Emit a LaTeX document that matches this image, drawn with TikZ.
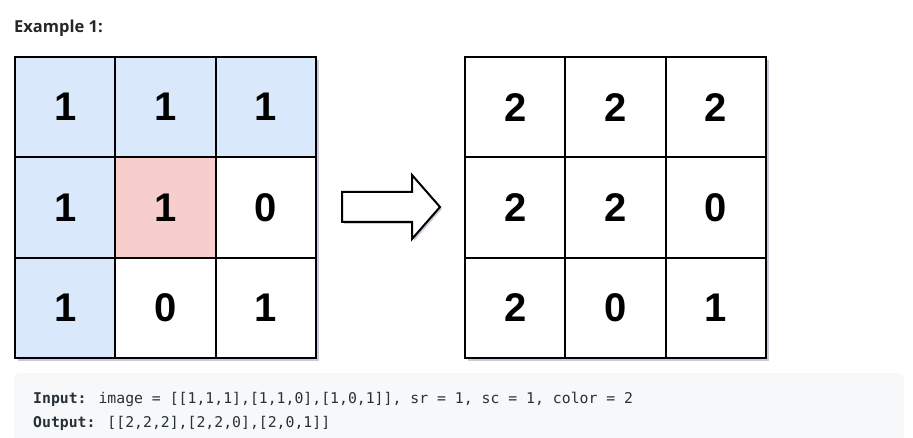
\documentclass[tikz,border=0pt]{standalone}
\usepackage{fontspec}
\setmainfont{Liberation Sans}
\newfontfamily\titrefont{Open Sans}
\newfontfamily\codefont{DejaVu Sans Mono}
\usetikzlibrary{positioning}
\definecolor{bleu}{HTML}{DAE8FC}
\definecolor{rosee}{HTML}{F8CECC}
\definecolor{fondcode}{HTML}{F7F8FA}
\definecolor{textecode}{HTML}{263238}
\definecolor{titre}{HTML}{262626}
\definecolor{ombre}{HTML}{CACAD8}

\begin{document}
\begin{tikzpicture}[
    x=1pt, y=-1pt,
    % Cases des grilles
    case/.style={draw, fill=white, line width=2pt, minimum size=100.3pt, inner sep=0pt, outer sep=0pt,
        font=\fontsize{40}{40}\selectfont\bfseries},
    casebleue/.style={case, fill=bleu},
    caserose/.style={case, fill=rosee},
    % Textes
    code/.style={anchor=base west, inner sep=0pt, text=textecode,
        font=\codefont\fontsize{14.8}{14.8}\selectfont}
]
\useasboundingbox (0,0) rectangle (913,438);

% Titre
\node[anchor=base west, inner sep=0pt, text=titre,
    font=\titrefont\bfseries\fontsize{16.5}{16.5}\selectfont] (titre) at (14,33) {Example 1:};

% Ombres
\fill[ombre] (18,60) rectangle (319,361);
\fill[ombre] (468,60) rectangle (769,361);
\fill[ombre] (344,194) -- (414,194) -- (414,177) -- (442,209) -- (414,241) -- (414,224) -- (344,224) -- cycle;

% Grille de départ
\node[casebleue] (in11) at (65.15,107.15) {1};
\node[casebleue, right=0pt of in11] (in12) {1};
\node[casebleue, right=0pt of in12] (in13) {1};
\node[casebleue, below=0pt of in11] (in21) {1};
\node[caserose, right=0pt of in21] (in22) {1};
\node[case, right=0pt of in22] (in23) {0};
\node[casebleue, below=0pt of in21] (in31) {1};
\node[case, right=0pt of in31] (in32) {0};
\node[case, right=0pt of in32] (in33) {1};

% Flèche
\filldraw[fill=white, line width=2pt, line join=miter] (342,192) -- (412,192) -- (412,175) -- (440,207)
    -- (412,239) -- (412,222) -- (342,222) -- cycle;

% Grille d'arrivée
\node[case] (out11) at (515.15,107.15) {2};
\node[case, right=0pt of out11] (out12) {2};
\node[case, right=0pt of out12] (out13) {2};
\node[case, below=0pt of out11] (out21) {2};
\node[case, right=0pt of out21] (out22) {2};
\node[case, right=0pt of out22] (out23) {0};
\node[case, below=0pt of out21] (out31) {2};
\node[case, right=0pt of out31] (out32) {0};
\node[case, right=0pt of out32] (out33) {1};

% Bloc de code
\fill[fondcode, rounded corners=4pt] (14,373) rectangle (904,446);
\node[code] (entree) at (33,403)
    {\textbf{Input:} image = [[1,1,1],[1,1,0],[1,0,1]], sr = 1, sc = 1, color = 2};
\node[code] (sortie) at (33,427) {\textbf{Output:} [[2,2,2],[2,2,0],[2,0,1]]};
\end{tikzpicture}
\end{document}
